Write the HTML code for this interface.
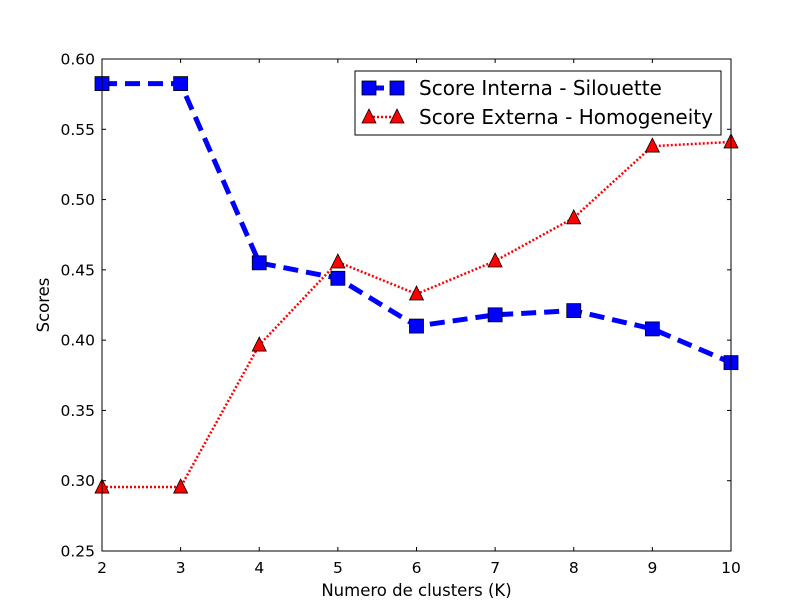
<!DOCTYPE html>
<html><head><meta charset="utf-8"><style>body{margin:0;background:#fff}svg{display:block;font-family:"DejaVu Sans","Liberation Sans",sans-serif}</style></head>
<body>
<svg id="chart" width="812" height="612">
<rect x="0" y="0" width="812" height="612" fill="#fff"/>
<g id="plot"></g>
</svg>
<script>
const categories=[2,3,4,5,6,7,8,9,10];
const silhouette=[0.5825,0.5825,0.455,0.444,0.410,0.418,0.421,0.408,0.384];
const homogeneity=[0.2955,0.2955,0.3965,0.4556,0.4328,0.4563,0.487,0.538,0.541];
const yTicks=[0.25,0.30,0.35,0.40,0.45,0.50,0.55,0.60];
const xTicks=[2,3,4,5,6,7,8,9,10];
const L=102,R=731,T=59,B=551;
const xs=v=>L+(v-2)/(10-2)*(R-L);
const ys=v=>B-(v-0.25)/(0.60-0.25)*(B-T);
const NS="http://www.w3.org/2000/svg";
const g=document.getElementById('plot');
function mk(t,a){const e=document.createElementNS(NS,t);for(const k in a)e.setAttribute(k,a[k]);g.appendChild(e);return e;}
xTicks.forEach(v=>{const x=xs(v);
 let t=mk('line',{x1:x,x2:x,y1:B,y2:B-4,stroke:'#000'});
 
 
 t=mk('line',{x1:x,x2:x,y1:T,y2:T+4,stroke:'#000'});
 
 
 const l=mk('text',{x:x,y:B+22,'text-anchor':'middle','font-size':15.5});l.textContent=v;
 
 });
yTicks.forEach(v=>{const y=ys(v);
 let t=mk('line',{x1:L,x2:L+4,y1:y,y2:y,stroke:'#000'});
 
 
 t=mk('line',{x1:R,x2:R-4,y1:y,y2:y,stroke:'#000'});
 
 
 const l=mk('text',{x:L-7,y:y+5.5,'text-anchor':'end','font-size':15.5});l.textContent=v.toFixed(2);
 
 });
const bp=mk('polyline',{points:categories.map((c,i)=>xs(c)+','+ys(silhouette[i])).join(' '),fill:'none',stroke:'#0000ff','stroke-width':5,'stroke-dasharray':'15,8'});


categories.forEach((c,i)=>{const m=mk('rect',{x:xs(c)-7,y:ys(silhouette[i])-7,width:14,height:14,fill:'#0000ff',stroke:'#000','stroke-width':0.8});
 
 });
const rp=mk('polyline',{points:categories.map((c,i)=>xs(c)+','+ys(homogeneity[i])).join(' '),fill:'none',stroke:'#ff0000','stroke-width':2.5,'stroke-dasharray':'2,2'});


function tri(x,y){return `${x},${y-8} ${x-7},${y+6} ${x+7},${y+6}`;}
categories.forEach((c,i)=>{const m=mk('polygon',{points:tri(xs(c),ys(homogeneity[i])),fill:'#ff0000',stroke:'#000','stroke-width':0.8});
 
 });
const f=mk('rect',{x:L,y:T,width:R-L,height:B-T,fill:'none',stroke:'#000','stroke-width':1});


let xl=mk('text',{x:(L+R)/2,y:596,'text-anchor':'middle','font-size':16.5});xl.textContent='Numero de clusters (K)';


let yl=mk('text',{x:49,y:(T+B)/2,'text-anchor':'middle','font-size':16.5,transform:`rotate(-90 49 ${(T+B)/2})`});yl.textContent='Scores';


const lb=mk('rect',{x:355,y:71,width:366,height:64,fill:'#fff',stroke:'#000'});


let l1=mk('line',{x1:369,x2:397,y1:88,y2:88,stroke:'#0000ff','stroke-width':5,'stroke-dasharray':'15,8'});


[369,397].forEach(x=>{const m=mk('rect',{x:x-7,y:81,width:14,height:14,fill:'#0000ff',stroke:'#000','stroke-width':0.8});
 
 });
let t1=mk('text',{x:419,y:95,'font-size':20});t1.textContent='Score Interna - Silouette';


let l2=mk('line',{x1:369,x2:397,y1:117,y2:117,stroke:'#ff0000','stroke-width':2.5,'stroke-dasharray':'2,2'});


[369,397].forEach(x=>{const m=mk('polygon',{points:tri(x,117),fill:'#ff0000',stroke:'#000','stroke-width':0.8});
 
 });
let t2=mk('text',{x:419,y:124,'font-size':20});t2.textContent='Score Externa - Homogeneity';


</script>
</body></html>
